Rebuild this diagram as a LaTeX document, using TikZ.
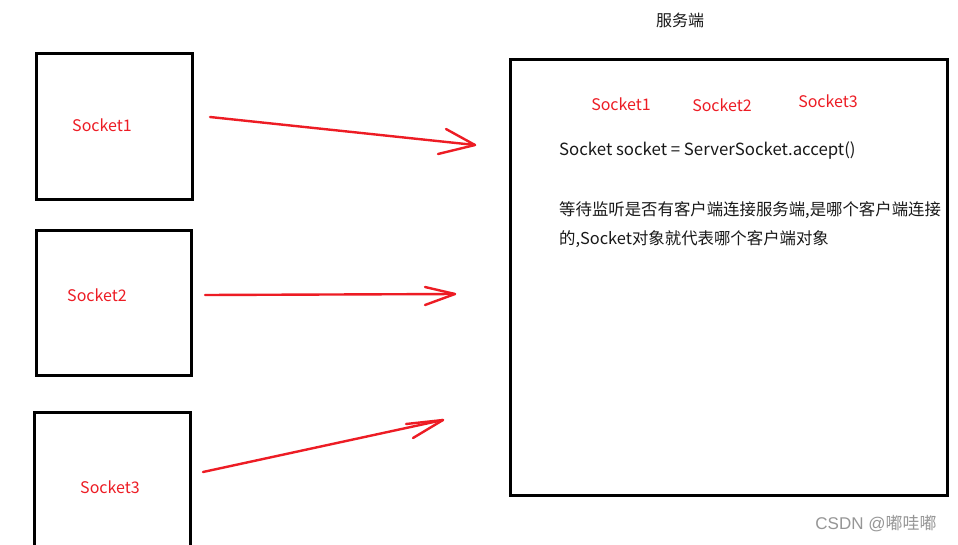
\documentclass[tikz,border=0pt]{standalone}
\usepackage{fontspec}
\setmainfont{Noto Sans CJK SC}
\newfontfamily\wmfont{Liberation Sans}
\newfontfamily\cjkfont{Noto Sans CJK SC}
\definecolor{paintred}{RGB}{237,28,36}
\definecolor{wmgray}{RGB}{150,150,150}
\begin{document}
\begin{tikzpicture}[x=1pt,y=-1pt,
  box/.style={draw=black,line width=2.6pt,fill=none,anchor=north west,inner sep=0pt},
  redtxt/.style={text=paintred,font=\fontsize{16}{18}\selectfont,inner sep=0pt},
  blacktxt/.style={text=black!90,font=\fontsize{16.8}{19}\selectfont,inner sep=0pt,anchor=west},
  redarrow/.style={draw=paintred,line width=2.4pt,line cap=round,line join=round}]
\useasboundingbox (0,0) rectangle (958,544);
\clip (0,0) rectangle (958,544);
\fill[white] (0,0) rectangle (958,544);
% client boxes
\node[box,minimum width=156pt,minimum height=146pt] (c1) at (35,52) {};
\node[box,minimum width=155pt,minimum height=145pt] (c2) at (35,229) {};
\node[box,minimum width=156pt,minimum height=160pt] (c3) at (33,411) {};
\node[redtxt] (c1t) at (102,125) {Socket1};
\node[redtxt] (c2t) at (97,295) {Socket2};
\node[redtxt] (c3t) at (110,487) {Socket3};
% server
\node[text=black!90,font=\fontsize{16}{18}\selectfont,inner sep=0pt] (title) at (680,20) {服务端};
\node[box,minimum width=437pt,minimum height=436pt] (srv) at (509,58) {};
\node[redtxt] (s1) at (621,104) {Socket1};
\node[redtxt] (s2) at (722,105) {Socket2};
\node[redtxt] (s3) at (828,101) {Socket3};
\node[blacktxt] (code) at (559,151) {Socket socket = ServerSocket.accept()};
\node[blacktxt,font=\fontsize{16.4}{19}\selectfont] (d1) at (559,210) {等待监听是否有客户端连接服务端,是哪个客户端连接};
\node[blacktxt,font=\fontsize{16.4}{19}\selectfont] (d2) at (559,239) {的,Socket对象就代表哪个客户端对象};
% arrows
\coordinate (a1s) at (210,117);
\coordinate (a1e) at (475,145);
\coordinate (a1h1) at (446,129);
\coordinate (a1h2) at (438,154);
\coordinate (a2s) at (205,295);
\coordinate (a2e) at (455,294);
\coordinate (a2h1) at (425,287);
\coordinate (a2h2) at (425,305);
\coordinate (a3s) at (203,472);
\coordinate (a3e) at (443,420);
\coordinate (a3h1) at (406,424);
\coordinate (a3h2) at (413,438);
\draw[redarrow] (a1s) -- (a1e);
\draw[redarrow] (a1h1) -- (a1e) -- (a1h2);
\draw[redarrow] (a2s) -- (a2e);
\draw[redarrow] (a2h1) -- (a2e) -- (a2h2);
\draw[redarrow] (a3s) -- (a3e);
\draw[redarrow] (a3h1) -- (a3e) -- (a3h2);
% watermark
\node[text=wmgray,inner sep=0pt] (wm) at (876,524) {\fontsize{17}{19}\selectfont\wmfont CSDN @\cjkfont 嘟哇嘟};
\end{tikzpicture}
\end{document}
